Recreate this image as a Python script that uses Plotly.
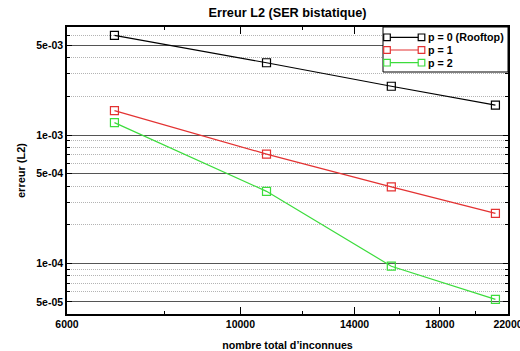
import math
import plotly.graph_objects as go

# Data
n_inconnues = [6900, 10800, 15600, 21200]
err_p0 = [5.98e-3, 3.66e-3, 2.40e-3, 1.71e-3]
err_p1 = [1.55e-3, 7.11e-4, 3.95e-4, 2.45e-4]
err_p2 = [1.25e-3, 3.64e-4, 9.5e-5, 5.24e-5]

series_names = ["p = 0 (Rooftop)", "p = 1", "p = 2"]
series_colors = ["#000000", "#e33232", "#3cdc3c"]

x_tickvals = [6000, 10000, 14000, 18000, 22000]
x_ticktext = ["6000", "10000", "14000", "18000", "22000"]
x_minor = [8000, 12000, 16000, 20000]

y_tickvals = [5e-5, 1e-4, 5e-4, 1e-3, 5e-3]
y_ticktext = ["5e-05", "1e-04", "5e-04", "1e-03", "5e-03"]
y_minor = [6e-5, 7e-5, 8e-5, 9e-5, 2e-4, 3e-4, 4e-4, 6e-4, 7e-4, 8e-4, 9e-4,
           2e-3, 3e-3, 4e-3, 6e-3]

FONT = "Liberation Sans, Arial, sans-serif"
W, H = 520, 351
ML, MR, MT, MB = 67, 12, 27, 37
PW, PH = W - ML - MR, H - MT - MB


def px(xp):
    return (xp - ML) / PW


def py(yp):
    return (H - MB - yp) / PH


fig = go.Figure()
for name, ys, col in zip(series_names, [err_p0, err_p1, err_p2], series_colors):
    fig.add_trace(go.Scatter(
        x=n_inconnues, y=ys, name=name, mode="lines+markers",
        line=dict(color=col, width=1.2),
        marker=dict(symbol="square-open", size=8, color=col, line=dict(width=1.2, color=col)),
        showlegend=False,
    ))

# Gnuplot-style legend box (line with a square at each end)
shapes = [dict(type="rect", xref="paper", yref="paper",
               x0=px(383), x1=px(508), y0=py(72), y1=py(27),
               line=dict(color="black", width=1), fillcolor="white", layer="above")]
annotations = []
row_y = [37.3, 50, 62.7]
for name, col, ry in zip(series_names, series_colors, row_y):
    shapes.append(dict(type="line", xref="paper", yref="paper",
                       x0=px(387), x1=px(421.5), y0=py(ry), y1=py(ry),
                       line=dict(color=col, width=1.2), layer="above"))
    for cx in (387, 421.5):
        shapes.append(dict(type="rect", xref="paper", yref="paper",
                           x0=px(cx - 3.3), x1=px(cx + 3.3), y0=py(ry + 3.3), y1=py(ry - 3.3),
                           line=dict(color=col, width=1.2), fillcolor="white", layer="above"))
    annotations.append(dict(text=name, xref="paper", yref="paper", x=px(426), y=py(ry),
                            xanchor="left", yanchor="middle", showarrow=False,
                            font=dict(family=FONT, size=10.7, color="black", weight="bold")))

fig.update_layout(
    width=W, height=H,
    margin=dict(l=ML, r=MR, t=MT, b=MB),
    paper_bgcolor="white", plot_bgcolor="white",
    title=dict(text="Erreur L2 (SER bistatique)", x=287.5 / W, xanchor="center",
               y=1 - 12.3 / H, yanchor="middle", xref="container", yref="container",
               font=dict(family=FONT, size=12.7, color="black", weight="bold")),
    showlegend=False,
    shapes=shapes,
    annotations=annotations,
    font=dict(family=FONT, color="black"),
)

fig.update_xaxes(
    type="log", range=[math.log10(6000), math.log10(22000)],
    tickmode="array", tickvals=x_tickvals, ticktext=x_ticktext,
    ticks="inside", ticklen=7, tickwidth=1, tickcolor="black",
    showgrid=False, zeroline=False,
    showline=True, linecolor="black", linewidth=1.5, mirror="allticks",
    ticklabeloverflow="allow",
    tickfont=dict(family=FONT, size=10.5, color="black", weight="bold"),
    title=dict(text="nombre total d’inconnues", standoff=13,
               font=dict(family=FONT, size=10.7, color="black", weight="bold")),
    minor=dict(tickmode="array", tickvals=x_minor, ticks="inside", ticklen=3,
               tickcolor="black", showgrid=False),
    automargin=False,
)

fig.update_yaxes(
    type="log", range=[math.log10(4.03e-5), math.log10(6.95e-3)],
    tickmode="array", tickvals=y_tickvals, ticktext=y_ticktext,
    ticks="inside", ticklen=5, tickwidth=1, tickcolor="black",
    showgrid=True, gridcolor="#555555", gridwidth=1,
    zeroline=False,
    showline=True, linecolor="black", linewidth=1.5, mirror="allticks",
    tickfont=dict(family=FONT, size=10.5, color="black", weight="bold"),
    title=dict(text="erreur (L2)", standoff=8,
               font=dict(family=FONT, size=11, color="black", weight="bold")),
    minor=dict(tickmode="array", tickvals=y_minor, ticks="inside", ticklen=3,
               tickcolor="black", showgrid=True, gridcolor="#b4b4b4",
               griddash="1px,1px", gridwidth=1),
    automargin=False,
)

fig.write_html("out.html")
